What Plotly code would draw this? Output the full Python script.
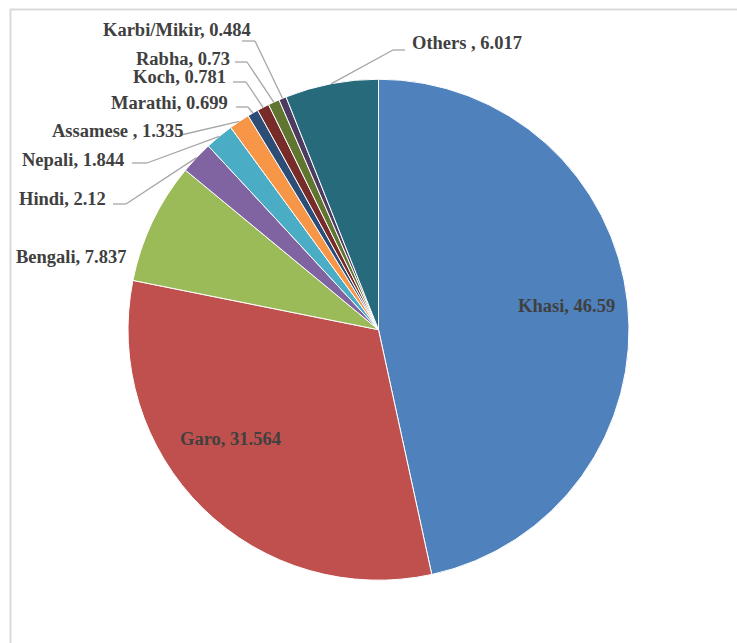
import math
import plotly.graph_objects as go

# ---- data ----
languages = ["Khasi", "Garo", "Bengali", "Hindi", "Nepali", "Assamese ",
             "Marathi", "Koch", "Rabha", "Karbi/Mikir", "Others "]
shares = [46.59, 31.564, 7.837, 2.12, 1.844, 1.335, 0.699, 0.781, 0.73, 0.484, 6.017]
colors = ["#4F81BD", "#C0504D", "#9BBB59", "#8064A2", "#4BACC6", "#F79646",
          "#2C4D75", "#772C2A", "#5F7530", "#4D3B62", "#276A7C"]

# ---- layout constants (pixels) ----
W, H = 737, 643
CX, CY, R = 378.5, 329.7, 250.5

def px(x):
    return x / W

def py(y):
    return 1 - y / H

# label placement: (mode, x, y, leader line y, elbow x0, elbow x1)
label_layout = {
    "Khasi": ("center", 566, 306, None, None, None),
    "Garo": ("center", 230, 439, None, None, None),
    "Bengali": ("right", 129, 257, None, None, None),
    "Hindi": ("right", 108, 199, 204, 113, 126),
    "Nepali": ("right", 126, 160, 163, 132, 147),
    "Assamese ": ("right", 186, 131, 135, 180, 181),
    "Marathi": ("right", 230, 103, 107, 236, 248),
    "Koch": ("right", 228, 77, 82, 233, 246),
    "Rabha": ("right", 232, 59, 62, 235, 247),
    "Karbi/Mikir": ("right", 253, 30, 41, 242, 255),
    "Others ": ("left", 410, 43, 50, 405, 393),
}

fig = go.Figure()
fig.add_trace(go.Pie(
    labels=languages,
    values=shares,
    sort=False,
    direction="clockwise",
    rotation=0,
    marker=dict(colors=colors, line=dict(color="white", width=1)),
    textinfo="none",
    hoverinfo="label+value",
    showlegend=False,
    domain=dict(x=[px(CX - R), px(CX + R)], y=[py(CY + R), py(CY - R)]),
))

total = sum(shares)
cum = 0.0
annotations = []
shapes = []
font = dict(family="Liberation Serif", size=18.5, color="#404040")
for name, val in zip(languages, shares):
    mid = (cum + val / 2) / total * 2 * math.pi
    cum += val
    ex = CX + R * math.sin(mid)
    ey = CY - R * math.cos(mid)
    mode, tx, ty, ly, e0, e1 = label_layout[name]
    text = f"<b>{name}, {val}</b>"
    annotations.append(dict(x=px(tx), y=py(ty), xref="paper", yref="paper",
                            text=text, showarrow=False, xanchor=mode,
                            yanchor="middle", font=font))
    if ly is not None:
        line = dict(color="#A6A6A6", width=1.3)
        shapes.append(dict(type="line", xref="paper", yref="paper",
                           x0=px(e0), y0=py(ly), x1=px(e1), y1=py(ly), line=line))
        shapes.append(dict(type="line", xref="paper", yref="paper",
                           x0=px(e1), y0=py(ly), x1=px(ex), y1=py(ey), line=line))

# outer frame
shapes.append(dict(type="rect", xref="paper", yref="paper",
                   x0=px(10.5), y0=py(H + 20), x1=px(W + 20), y1=py(9.5),
                   line=dict(color="#D9D9D9", width=2), layer="below"))

fig.update_layout(
    width=W, height=H,
    margin=dict(l=0, r=0, t=0, b=0),
    paper_bgcolor="white",
    plot_bgcolor="white",
    annotations=annotations,
    shapes=shapes,
)

fig.write_html("out.html",
               config={"displayModeBar": False},
               post_script="document.body.style.margin='0';document.body.style.overflow='hidden';")
